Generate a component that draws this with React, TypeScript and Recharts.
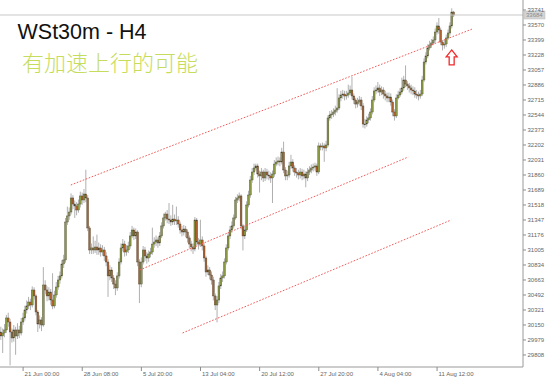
import React from 'react';
import { ComposedChart, Bar, XAxis, YAxis, ReferenceLine, ReferenceDot } from 'recharts';

// H4 bars, oldest first
const opens = [
  30070, 30025, 30059, 30093, 30230, 30184, 30070, 30002, 30093, 30025,
  30093, 30059, 30184, 30230, 30321, 30367, 30412, 30378, 30549, 30481,
  30298, 30161, 30207, 30150, 30606, 30549, 30481, 30526, 30435, 30367,
  30492, 30583, 30663, 30709, 30845, 30891, 31324, 31393, 31438, 31598,
  31529, 31507, 31461, 31529, 31621, 31575, 31643, 31598, 31256, 31005,
  31028, 31005, 31039, 31005, 31028, 30982, 31005, 30937, 30868, 30709,
  30777, 30686, 30617, 30572, 30709, 30868, 31028, 31073, 30982, 31005,
  31051, 31165, 31233, 31165, 31210, 30868, 30617, 30868, 31005, 30937,
  30914, 30959, 30982, 31073, 31096, 31119, 31085, 31165, 31279, 31370,
  31415, 31358, 31347, 31324, 31358, 31336, 31347, 31301, 31233, 31210,
  31244, 31210, 31142, 31073, 31039, 31016, 31347, 31096, 31073, 31119,
  31051, 30914, 30754, 30777, 30720, 30663, 30481, 30378, 30435, 30595,
  30686, 30709, 30868, 31028, 31165, 31233, 31279, 31370, 31575, 31598,
  31621, 31279, 31165, 31233, 31518, 31632, 31803, 31894, 31940, 31963,
  31871, 31849, 31894, 31826, 31894, 31860, 31849, 31826, 31871, 31985,
  32008, 32020, 32008, 32122, 31917, 31849, 31860, 31963, 32008, 31940,
  31894, 31883, 31860, 31894, 31849, 31871, 31826, 31894, 31917, 31940,
  31951, 31963, 31894, 32191, 32179, 32191, 32168, 32202, 32510, 32544,
  32555, 32578, 32601, 32624, 32738, 32772, 32783, 32761, 32772, 32795,
  32829, 32761, 32715, 32669, 32692, 32715, 32647, 32441, 32441, 32487,
  32510, 32578, 32715, 32818, 32829, 32852, 32806, 32829, 32783, 32761,
  32738, 32749, 32692, 32578, 32533, 32738, 32772, 32806, 32852, 32943,
  32897, 32875, 32852, 32829, 32818, 32783, 32772, 32761, 32783, 32943,
  33148, 33217, 33308, 33342, 33365, 33399, 33490, 33559, 33513, 33376,
  33342, 33353, 33422, 33479, 33559, 33718,
];

const highs = [
  30130, 30110, 30160, 30265, 30290, 30220, 30110, 30150, 30130, 30170,
  30140, 30230, 30290, 30370, 30430, 30470, 30450, 30590, 30580, 30500,
  30320, 30260, 30240, 30810, 30660, 30590, 30580, 30560, 30740, 30540,
  30640, 30710, 30760, 30890, 30950, 31370, 31500, 31490, 31650, 31630,
  31570, 31550, 31580, 31670, 31660, 31700, 31920, 31630, 31280, 31080,
  31160, 31110, 31180, 31090, 31070, 31060, 31040, 30980, 30900, 30830,
  30810, 30720, 30660, 30750, 30910, 31080, 31130, 31110, 31060, 31100,
  31210, 31280, 31260, 31250, 31230, 30900, 30920, 31050, 31040, 30980,
  31000, 31030, 31260, 31150, 31170, 31150, 31210, 31320, 31420, 31440,
  31460, 31540, 31400, 31520, 31410, 31500, 31390, 31330, 31280, 31290,
  31280, 31240, 31170, 31110, 31080, 31380, 31370, 31140, 31350, 31160,
  31080, 30940, 30830, 30810, 30760, 30700, 30510, 30480, 30640, 30730,
  30760, 30910, 31070, 31210, 31280, 31330, 31410, 31610, 31640, 31660,
  31640, 31300, 31280, 31560, 31680, 31850, 31940, 31990, 31990, 31990,
  31910, 31940, 31920, 31940, 31930, 31910, 31890, 31910, 32030, 32060,
  32070, 32060, 32170, 32240, 31950, 31910, 32010, 32090, 32040, 31970,
  31940, 31920, 31940, 31930, 31920, 31900, 31940, 31960, 31980, 31990,
  32000, 31990, 32230, 32220, 32230, 32220, 32250, 32540, 32590, 32600,
  32620, 32650, 32850, 32780, 32820, 32830, 32820, 32820, 32890, 32880,
  32980, 32790, 32740, 32740, 32760, 32750, 32680, 32500, 32530, 32560,
  32620, 32760, 32860, 32880, 32920, 32890, 32870, 32860, 32820, 32800,
  32800, 32790, 32720, 32610, 32780, 32820, 32850, 32970, 32990, 33110,
  32930, 32910, 32890, 32870, 32860, 32830, 32810, 32830, 32990, 33190,
  33260, 33350, 33390, 33410, 33440, 33530, 33600, 33650, 33540, 33400,
  33400, 33460, 33520, 33600, 33760, 33730,
];

const lows = [
  29980, 29830, 30010, 30060, 30130, 29690, 29950, 29960, 29810, 29990,
  30000, 30030, 30150, 30200, 30280, 30330, 30320, 30350, 30440, 30260,
  30070, 30110, 30080, 30130, 30500, 30420, 30430, 30380, 30330, 30340,
  30460, 30550, 30620, 30680, 30800, 30860, 31290, 31350, 31410, 31470,
  31370, 31400, 31430, 31490, 31520, 31540, 31550, 31220, 30960, 30960,
  30960, 30970, 30950, 30950, 30930, 30940, 30880, 30820, 30470, 30660,
  30640, 30560, 30490, 30540, 30680, 30840, 30990, 30930, 30940, 30970,
  31020, 31140, 31120, 31130, 30820, 30400, 30580, 30840, 30880, 30850,
  30870, 30920, 30950, 31030, 31050, 31030, 31050, 31140, 31250, 31340,
  31310, 31300, 31280, 31290, 31290, 31290, 31260, 31190, 31160, 31170,
  31150, 31090, 31020, 30990, 30960, 30990, 31060, 31010, 31040, 31000,
  30870, 30700, 30720, 30670, 30610, 30430, 30320, 30180, 30400, 30560,
  30640, 30680, 30840, 31000, 31130, 31200, 31250, 31350, 31540, 31560,
  31240, 31000, 31130, 31210, 31490, 31600, 31770, 31860, 31910, 31830,
  31660, 31800, 31780, 31790, 31810, 31800, 31770, 31540, 31840, 31960,
  31970, 31960, 31980, 31880, 31800, 31800, 31830, 31930, 31900, 31850,
  31830, 31810, 31820, 31800, 31810, 31720, 31790, 31860, 31880, 31900,
  31910, 31850, 31870, 32140, 32140, 32010, 32130, 32180, 32480, 32500,
  32520, 32540, 32570, 32600, 32700, 32730, 32710, 32720, 32740, 32770,
  32720, 32670, 32620, 32630, 32650, 32600, 32400, 32390, 32410, 32450,
  32480, 32550, 32690, 32780, 32800, 32760, 32770, 32730, 32710, 32690,
  32690, 32650, 32530, 32480, 32510, 32720, 32750, 32780, 32820, 32860,
  32830, 32800, 32780, 32770, 32740, 32730, 32710, 32730, 32760, 32920,
  33120, 33190, 33280, 33310, 33340, 33370, 33460, 33470, 33340, 33280,
  33300, 33320, 33400, 33450, 33530, 33660,
];

const closes = [
  30025, 30059, 30093, 30230, 30184, 30070, 30002, 30093, 30025, 30093,
  30059, 30184, 30230, 30321, 30367, 30412, 30378, 30549, 30481, 30298,
  30161, 30207, 30150, 30606, 30549, 30481, 30526, 30435, 30367, 30492,
  30583, 30663, 30709, 30845, 30891, 31324, 31393, 31438, 31598, 31529,
  31507, 31461, 31529, 31621, 31575, 31643, 31598, 31256, 31005, 31028,
  31005, 31039, 31005, 31028, 30982, 31005, 30937, 30868, 30709, 30777,
  30686, 30617, 30572, 30709, 30868, 31028, 31073, 30982, 31005, 31051,
  31165, 31233, 31165, 31210, 30868, 30617, 30868, 31005, 30937, 30914,
  30959, 30982, 31073, 31096, 31119, 31085, 31165, 31279, 31370, 31415,
  31358, 31347, 31324, 31358, 31336, 31347, 31301, 31233, 31210, 31244,
  31210, 31142, 31073, 31039, 31016, 31347, 31096, 31073, 31119, 31051,
  30914, 30754, 30777, 30720, 30663, 30481, 30378, 30435, 30595, 30686,
  30709, 30868, 31028, 31165, 31233, 31279, 31370, 31575, 31598, 31621,
  31279, 31165, 31233, 31518, 31632, 31803, 31894, 31940, 31963, 31871,
  31849, 31894, 31826, 31894, 31860, 31849, 31826, 31871, 31985, 32008,
  32020, 32008, 32122, 31917, 31849, 31860, 31963, 32008, 31940, 31894,
  31883, 31860, 31894, 31849, 31871, 31826, 31894, 31917, 31940, 31951,
  31963, 31894, 32191, 32179, 32191, 32168, 32202, 32510, 32544, 32555,
  32578, 32601, 32624, 32738, 32772, 32783, 32761, 32772, 32795, 32829,
  32761, 32715, 32669, 32692, 32715, 32647, 32441, 32441, 32487, 32510,
  32578, 32715, 32818, 32829, 32852, 32806, 32829, 32783, 32761, 32738,
  32749, 32692, 32578, 32533, 32738, 32772, 32806, 32852, 32943, 32897,
  32875, 32852, 32829, 32818, 32783, 32772, 32761, 32783, 32943, 33148,
  33217, 33308, 33342, 33365, 33399, 33490, 33559, 33513, 33376, 33342,
  33353, 33422, 33479, 33559, 33718, 33684,
];

const timeTickIndex = [12, 44, 76, 108, 140, 172, 204, 236];
const timeTickLabels = [
  '21 Jun 00:00', '28 Jun 08:00', '5 Jul 20:00', '13 Jul 04:00',
  '20 Jul 12:00', '27 Jul 20:00', '4 Aug 04:00', '11 Aug 12:00',
];

const priceTicks = [
  29808, 29979, 30150, 30321, 30492, 30663, 30834, 31005, 31176, 31347, 31518, 31689,
  31860, 32031, 32202, 32373, 32544, 32715, 32886, 33057, 33228, 33399, 33570, 33741,
];

// parallel channel lines, [bar, price] at each end
const channelUpper = [[37.8, 31746], [255, 33524]];
const channelMiddle = [[75.1, 30777], [220.4, 32065]];
const channelLower = [[98.3, 30059], [243.6, 31347]];

const lastPrice = 33684;
const arrowAt = [243.9, 33200];

const candles = opens.map((open, i) => ({
  idx: i,
  open,
  high: highs[i],
  low: lows[i],
  close: closes[i],
  range: [lows[i], highs[i]],
}));

const FONT = '"Liberation Sans", Arial, sans-serif';

const Candle = (props: any) => {
  const { x, y, width, height, payload } = props;
  if (!payload || height == null || isNaN(y)) return null;
  const { open, close, high, low } = payload;
  const top = Math.min(y, y + height);
  const h = Math.abs(height);
  const k = h / (high - low || 1);
  const cx = x + width / 2;
  const py = (v: number) => top + (high - v) * k;
  const bodyTop = py(Math.max(open, close));
  const bodyBottom = py(Math.min(open, close));
  const up = close >= open;
  return (
    <g>
      <line x1={cx} x2={cx} y1={top} y2={top + h} stroke="#b0b0b0" strokeWidth={1} />
      <rect
        x={cx - 0.9}
        y={bodyTop}
        width={1.8}
        height={Math.max(bodyBottom - bodyTop, 0.8)}
        fill={up ? '#8a9a42' : '#b0602f'}
        stroke="#4a4632"
        strokeWidth={0.4}
      />
    </g>
  );
};

const TimeTick = ({ x, y, payload }: any) => {
  const label = timeTickLabels[timeTickIndex.indexOf(payload.value)];
  return (
    <g>
      <line x1={x} x2={x} y1={y} y2={y + 4} stroke="#8c8c8c" strokeWidth={1} />
      <text x={x + 1.5} y={y + 8.5} fontSize={6} fill="#666" fontFamily={FONT}>
        {label}
      </text>
    </g>
  );
};

const PriceTick = ({ x, y, payload }: any) => (
  <g>
    <line x1={x} x2={x + 3} y1={y} y2={y} stroke="#8c8c8c" strokeWidth={1} />
    <text x={x + 4.5} y={y + 2.2} fontSize={6} fill="#666" fontFamily={FONT}>
      {payload.value}
    </text>
  </g>
);

const PriceTag = (props: any) => {
  const vb = props.viewBox;
  if (!vb) return null;
  const left = vb.x + vb.width + 1;
  return (
    <g>
      <rect x={left} y={vb.y - 4} width={21} height={8} fill="#d4d4d4" stroke="#bdbdbd" strokeWidth={0.5} />
      <text x={left + 2} y={vb.y + 2.2} fontSize={6} fill="#8a8a8a" fontFamily={FONT}>
        {lastPrice}
      </text>
    </g>
  );
};

const UpArrow = ({ cx, cy }: any) => {
  if (cx == null || cy == null) return null;
  const d = `M${cx} ${cy - 7.5} L${cx + 5.5} ${cy - 0.5} L${cx + 2.5} ${cy - 0.5} L${cx + 2.5} ${cy + 7.5} L${cx - 2.5} ${cy + 7.5} L${cx - 2.5} ${cy - 0.5} L${cx - 5.5} ${cy - 0.5} Z`;
  return <path d={d} fill="none" stroke="#f02a2a" strokeWidth={1.3} strokeLinejoin="miter" />;
};

const seg = (pts: number[][]) => pts.map(([x, y]) => ({ x, y }));

const channelStyle = { stroke: '#f25a5a', strokeDasharray: '1.6 1.6', strokeWidth: 1 };

export default function App() {
  return (
    <div style={{ position: 'absolute', left: 0, top: 0, width: 554, height: 377, background: '#fff' }}>
      <ComposedChart
        width={554}
        height={377}
        data={candles}
        margin={{ top: 0, right: 0, bottom: 0, left: 0 }}
      >
        <XAxis
          dataKey="idx"
          type="number"
          domain={[-0.5, 282.5]}
          allowDataOverflow
          ticks={timeTickIndex}
          tick={<TimeTick />}
          tickLine={false}
          tickSize={0}
          tickMargin={0}
          height={10}
          axisLine={{ stroke: '#9a9a9a' }}
          interval={0}
        />
        <YAxis
          orientation="right"
          type="number"
          domain={[29671, 33855]}
          allowDataOverflow
          ticks={priceTicks}
          tick={<PriceTick />}
          tickLine={false}
          tickSize={0}
          tickMargin={0}
          width={31}
          axisLine={{ stroke: '#9a9a9a' }}
          interval={0}
        />
        <ReferenceLine y={lastPrice} stroke="#c8c8c8" strokeWidth={1} label={<PriceTag />} />
        <Bar dataKey="range" barSize={2} shape={(p: any) => <Candle {...p} />} isAnimationActive={false} />
        <ReferenceLine segment={seg(channelUpper)} {...channelStyle} ifOverflow="visible" />
        <ReferenceLine segment={seg(channelMiddle)} {...channelStyle} ifOverflow="visible" />
        <ReferenceLine segment={seg(channelLower)} {...channelStyle} ifOverflow="visible" />
        <ReferenceDot x={arrowAt[0]} y={arrowAt[1]} r={6} shape={(p: any) => <UpArrow {...p} />} />
      </ComposedChart>
      <svg
        width={554}
        height={377}
        style={{ position: 'absolute', left: 0, top: 0, pointerEvents: 'none' }}
      >
        <text x={17.5} y={38.5} fontSize={21.5} fill="#111" fontFamily={FONT}>
          WSt30m - H4
        </text>
        <text x={22} y={71} fontSize={22} fill="#c6dc5c" fontFamily='"Noto Sans CJK SC", sans-serif' fontWeight={300}>
          有加速上行的可能
        </text>
      </svg>
    </div>
  );
}
